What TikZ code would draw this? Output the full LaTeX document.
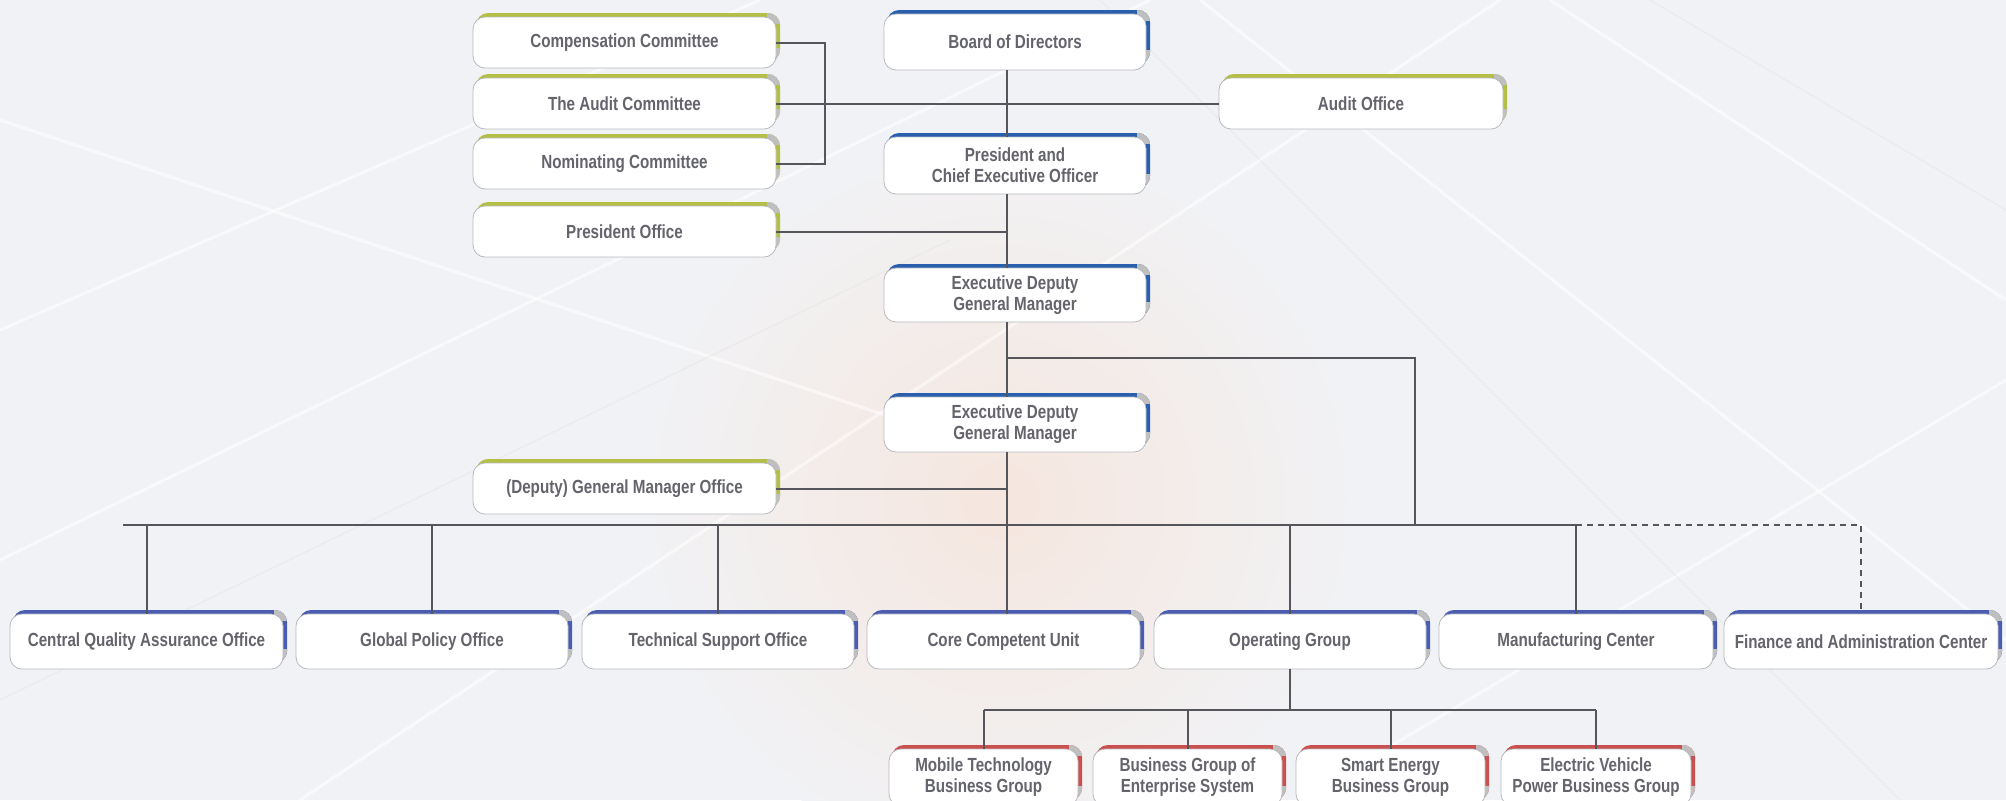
\documentclass[tikz,border=0pt]{standalone}
\usepackage{fontspec}
\setmainfont{Liberation Sans}[FakeStretch=0.8]
\usetikzlibrary{calc}
\definecolor{txt}{HTML}{64646C}
\definecolor{lin}{HTML}{55565C}
\definecolor{cgreen}{HTML}{B4BF45}
\definecolor{cblue}{HTML}{2A5FAE}
\definecolor{cpurp}{HTML}{4A5DB0}
\definecolor{cred}{HTML}{C9504F}
\definecolor{edgec}{HTML}{B8B9BE}
\definecolor{bgc}{HTML}{F1F2F5}
\definecolor{glow}{HTML}{F5E6DE}
\tikzset{
  orgbox/.style={draw=edgec, line width=0.4pt, fill=white, rounded corners=6pt,
    inner sep=0pt, align=center, text=txt,
    font=\fontsize{9.5}{10.5}\selectfont\bfseries},
  conn/.style={draw=lin, line width=1pt},
  dconn/.style={conn, dash pattern=on 3pt off 2.5pt},
  bgline/.style={draw=white, line width=1.5pt, opacity=0.55},
  bgline2/.style={draw=gray!25, line width=0.6pt, opacity=0.35},
}
\newcommand\obox[7]{%
  \pgfmathsetmacro\bw{(#4-#2-4)*0.5}%
  \pgfmathsetmacro\bh{(#5-#3-4)*0.5}%
  \begin{scope}
    \clip[rounded corners=6pt] (#2+3,#3) rectangle (#4,#5-6);
    \fill[#6] (#2,#3-2) rectangle (#4+2,#5);
    \fill[gray!50] (#4-13,#3-2) rectangle (#4+2,#3+11);
    \fill[gray!50] (#4-13,#5-20) rectangle (#4+2,#5);
  \end{scope}
  \node[orgbox, minimum width=\bw pt, minimum height=\bh pt] (#1)
    at ({(#2+#4-4)/2},{(#3+#5+4)/2}) {#7};
}
\begin{document}
\begin{tikzpicture}[x=0.5pt,y=-0.5pt]
\useasboundingbox (0,0) rectangle (2006,800);
\clip (0,0) rectangle (2006,800);
% background
\fill[bgc] (0,0) rectangle (2006,800);
\shade[inner color=glow, outer color=bgc] (1000,500) circle (360);
\draw[bgline] (0,330) -- (760,0);
\draw[bgline] (0,560) -- (1150,0);
\draw[bgline] (300,800) -- (1500,0);
\draw[bgline] (1200,0) -- (2006,640);
\draw[bgline] (1550,0) -- (2006,300);
\draw[bgline] (0,120) -- (900,420);
\draw[bgline] (1300,800) -- (2006,380);
\draw[bgline2] (0,700) -- (950,240);
\draw[bgline2] (1100,0) -- (1900,800);
\draw[bgline2] (1650,0) -- (2006,210);
% boxes
\obox{comp}{473}{13}{780}{68}{cgreen}{Compensation Committee}
\obox{audc}{473}{74}{780}{129}{cgreen}{The Audit Committee}
\obox{nomc}{473}{134}{780}{189}{cgreen}{Nominating Committee}
\obox{pof}{473}{202}{780}{257}{cgreen}{President Office}
\obox{board}{884}{10}{1150}{70}{cblue}{Board of Directors}
\obox{audo}{1219}{74}{1507}{129}{cgreen}{Audit Office}
\obox{pceo}{884}{133}{1150}{194}{cblue}{President and\\Chief Executive Officer}
\obox{edgma}{884}{264}{1150}{322}{cblue}{Executive Deputy\\General Manager}
\obox{edgmb}{884}{393}{1150}{452}{cblue}{Executive Deputy\\General Manager}
\obox{gmo}{473}{459}{780}{514}{cgreen}{(Deputy) General Manager Office}
\obox{cqa}{10}{610}{287}{669}{cpurp}{Central Quality Assurance Office}
\obox{gp}{296}{610}{572}{669}{cpurp}{Global Policy Office}
\obox{ts}{582}{610}{858}{669}{cpurp}{Technical Support Office}
\obox{cc}{867}{610}{1144}{669}{cpurp}{Core Competent Unit}
\obox{og}{1154}{610}{1430}{669}{cpurp}{Operating Group}
\obox{mc}{1439}{610}{1717}{669}{cpurp}{Manufacturing Center}
\obox{fin}{1724}{610}{2002}{669}{cpurp}{Finance and Administration Center}
\obox{sa}{889}{745}{1082}{806}{cred}{Mobile Technology\\Business Group}
\obox{sb}{1093}{745}{1286}{806}{cred}{Business Group of\\Enterprise System}
\obox{sc}{1296}{745}{1489}{806}{cred}{Smart Energy\\Business Group}
\obox{sd}{1501}{745}{1695}{806}{cred}{Electric Vehicle\\Power Business Group}
% junction coordinates
\coordinate (spine) at (1007,0);
\coordinate (brk) at (825,0);
\coordinate (bra) at (1007,358);
\coordinate (brb) at (1415,358);
\coordinate (busL) at (123,525);
\coordinate (ogj) at (0,710);
% connectors
\draw[conn] (board.south -| spine) -- (pceo.north -| spine);
\draw[conn] (pceo.south -| spine) -- (edgma.north -| spine);
\draw[conn] (edgma.south -| spine) -- (edgmb.north -| spine);
\draw[conn] (edgmb.south -| spine) -- (cc.north -| spine);
\draw[conn] (comp.east) -| (brk |- nomc.east) -- (nomc.east);
\draw[conn] (audc.east) -- (audo.west);
\draw[conn] (pof.east) -- (pof.east -| spine);
\draw[conn] (gmo.east) -- (gmo.east -| spine);
\draw[conn] (bra) -- (brb) -- (brb |- busL);
\draw[conn] (busL) -- (busL -| mc.north) -- (mc.north);
\draw[dconn] (busL -| mc.north) -- (busL -| fin.north) -- (fin.north);
\foreach \n in {cqa,gp,ts,og} \draw[conn] (busL -| \n.north) -- (\n.north);
\draw[conn] (og.south) -- (og.south |- ogj);
\draw[conn] (ogj -| sa.north) -- (ogj -| sd.north);
\foreach \n in {sa,sb,sc,sd} \draw[conn] (ogj -| \n.north) -- (\n.north);
\end{tikzpicture}
\end{document}
